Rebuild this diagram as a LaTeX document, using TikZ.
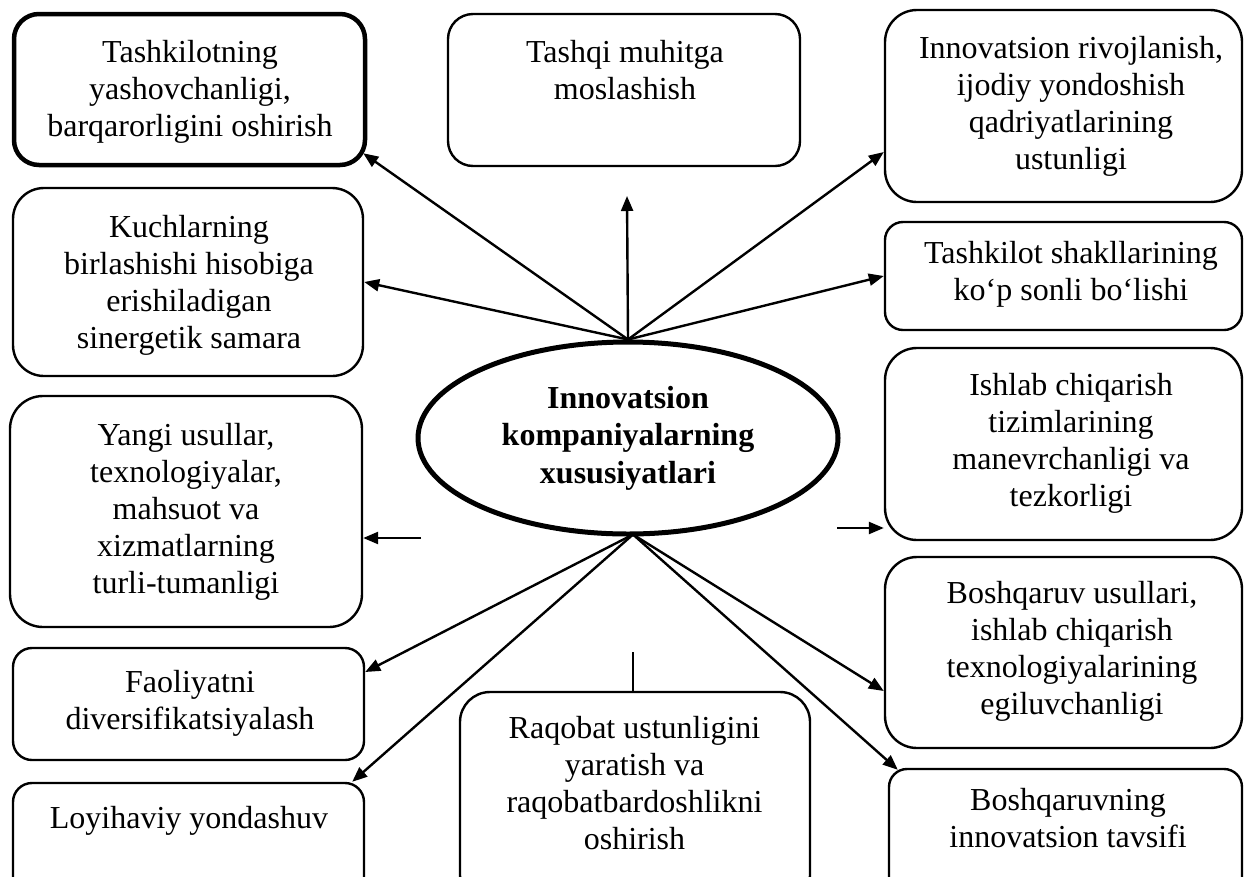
\documentclass[tikz,border=0pt]{standalone}
\usepackage{fontspec}
\setmainfont{Liberation Serif}
\usetikzlibrary{arrows.meta,shapes.geometric,calc}
\begin{document}
\begin{tikzpicture}[x=1pt,y=-1pt,
  box/.style={draw, rectangle, rounded corners=#1, line width=2.4pt, inner sep=0pt},
  box/.default=25pt,
  txt/.style={font=\fontsize{32}{37}\selectfont, align=center, inner sep=0pt, anchor=north},
  arr/.style={line width=2.4pt, -{Triangle[length=15pt,width=12pt]}},
  conn/.style={line width=2.4pt}
  ]
\useasboundingbox (0,0) rectangle (1244,876);
\clip (0,0) rectangle (1244,876);

% boxes (shapes)
\node[box=25pt, line width=4.5pt, minimum width=351pt, minimum height=151pt] (b1) at (189.5,89.5) {};
\node[box=31pt, minimum width=350pt, minimum height=188pt] (b2) at (188,282) {};
\node[box=33pt, minimum width=352pt, minimum height=231pt] (b3) at (186,511.5) {};
\node[box=19pt, minimum width=351pt, minimum height=112pt] (b4) at (188.5,704) {};
\node[box=19pt, minimum width=351pt, minimum height=122pt] (b5) at (188.5,844) {};
\node[box=25pt, minimum width=352pt, minimum height=152pt] (b6) at (624,90) {};
\node[box=30pt, minimum width=350pt, minimum height=213pt] (b7) at (635,798.5) {};
\node[box=32pt, minimum width=357pt, minimum height=192pt] (b8) at (1063.5,106) {};
\node[box=18pt, minimum width=357pt, minimum height=108pt] (b9) at (1063.5,276) {};
\node[box=32pt, minimum width=357pt, minimum height=192pt] (b10) at (1063.5,444) {};
\node[box=32pt, minimum width=357pt, minimum height=191pt] (b11) at (1063.5,652.5) {};
\node[box=18pt, minimum width=353pt, minimum height=136pt] (b12) at (1065.5,837) {};

% texts
\node[txt] (l1) at (190,40) {Tashkilotning\\yashovchanligi,\\barqarorligini oshirish};
\node[txt] (l2) at (189,215) {Kuchlarning\\birlashishi hisobiga\\erishiladigan\\sinergetik samara};
\node[txt] (l3) at (186,423) {Yangi usullar,\\texnologiyalar,\\mahsuot va\\xizmatlarning\\turli-tumanligi};
\node[txt] (l4) at (190,670) {Faoliyatni\\diversifikatsiyalash};
\node[txt] (l5) at (189,806) {Loyihaviy yondashuv};
\node[txt] (l6) at (625,40) {Tashqi muhitga\\moslashish};
\node[txt] (l7) at (634.5,716) {Raqobat ustunligini\\yaratish va\\raqobatbardoshlikni\\oshirish};
\node[txt] (l8) at (1071,36) {Innovatsion rivojlanish,\\ijodiy yondoshish\\qadriyatlarining\\ustunligi};
\node[txt] (l9) at (1071,241) {Tashkilot shakllarining\\ko‘p sonli bo‘lishi};
\node[txt] (l10) at (1071,373) {Ishlab chiqarish\\tizimlarining\\manevrchanligi va\\tezkorligi};
\node[txt] (l11) at (1072,581) {Boshqaruv usullari,\\ishlab chiqarish\\texnologiyalarining\\egiluvchanligi};
\node[txt] (l12) at (1068,788) {Boshqaruvning\\innovatsion tavsifi};

% central ellipse
\node[ellipse, draw, line width=5pt, minimum width=420pt, minimum height=192pt, inner sep=0pt,
      align=center, font=\bfseries\fontsize{32}{37.5}\selectfont] (e) at (628,438)
      {Innovatsion\\kompaniyalarning\\xususiyatlari};

\coordinate (eb) at ($(e.south)+(5,-2)$);
\coordinate (a6tip) at (627,196);
\coordinate (s3) at (421,538);
\coordinate (s10) at (837,528);
\coordinate (s7) at (633,652);

% connectors from top
\draw[arr] (e.north) -- ($(b1.south east)+(-4,-14)$);
\draw[arr] (e.north) -- (b2.east);
\draw[arr] (e.north) -- (a6tip);
\draw[arr] (e.north) -- ($(b8.west)+(0,46)$);
\draw[arr] (e.north) -- (b9.west);
% connectors from bottom
\draw[arr] (eb) -- ($(b4.east)+(0,-32)$);
\draw[arr] (eb) -- ($(b5.north east)+(-13,0)$);
\draw[arr] (eb) -- ($(b11.west)+(0,38.5)$);
\draw[arr] (eb) -- ($(b12.north west)+(10,2)$);
% free short connectors
\draw[arr] (s3) -- (s3 -| b3.east);
\draw[arr] (s10) -- (s10 -| b10.west);
\draw[conn] (s7) -- (s7 |- b7.north);
\end{tikzpicture}
\end{document}
